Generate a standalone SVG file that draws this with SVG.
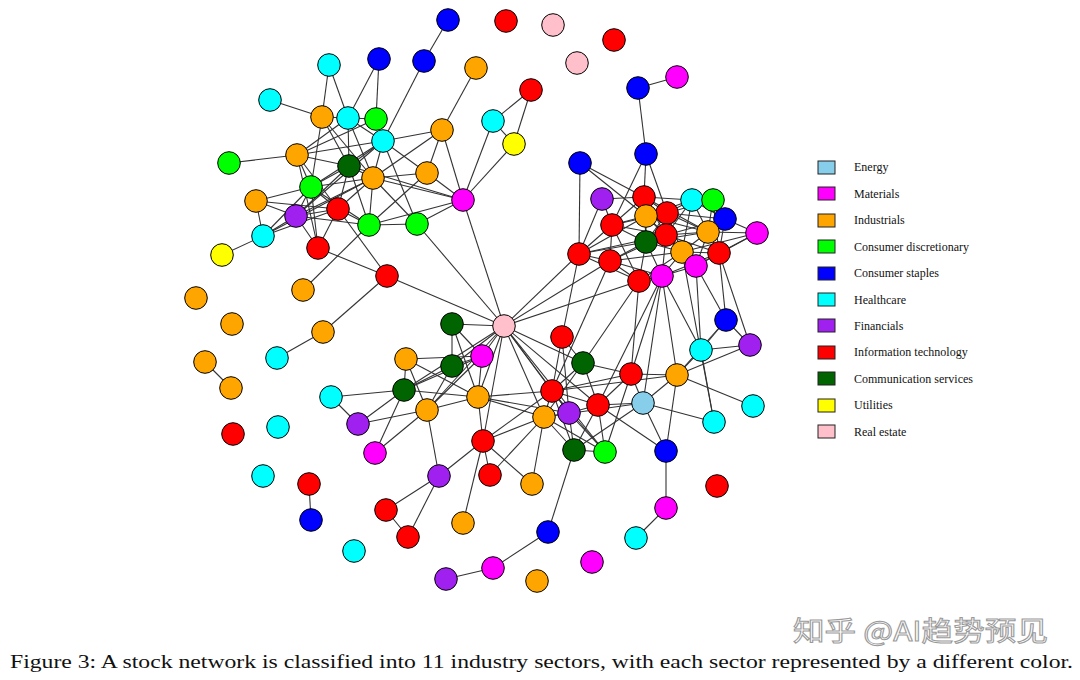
<svg xmlns="http://www.w3.org/2000/svg" width="1080" height="680" viewBox="0 0 1080 680">
<style>
circle{stroke:#000;stroke-width:1}
.en{fill:#87CEEB}.ma{fill:#FF00FF}.in{fill:#FFA500}.cd{fill:#00FF00}.cs{fill:#0000FF}.hc{fill:#00FFFF}.fi{fill:#A020F0}.it{fill:#FF0000}.co{fill:#006400}.ut{fill:#FFFF00}.re{fill:#FFC0CB}
#edges line{stroke:#333;stroke-width:1.1}
.lg rect{stroke:#222;stroke-width:1}
.lg text{font-family:"Liberation Serif",serif;font-size:12px;fill:#111}
</style>
<rect width="1080" height="680" fill="#fff"/>
<g id="edges">
<line x1="424" y1="61" x2="448" y2="20"/>
<line x1="329" y1="65" x2="322" y2="117"/>
<line x1="329" y1="65" x2="348" y2="118"/>
<line x1="379" y1="59" x2="348" y2="118"/>
<line x1="379" y1="59" x2="376" y2="119"/>
<line x1="424" y1="61" x2="383" y2="141"/>
<line x1="476" y1="68" x2="442" y2="130"/>
<line x1="270" y1="100" x2="322" y2="117"/>
<line x1="442" y1="130" x2="383" y2="141"/>
<line x1="442" y1="130" x2="427" y2="173"/>
<line x1="442" y1="130" x2="463" y2="200"/>
<line x1="442" y1="130" x2="373" y2="178"/>
<line x1="229" y1="163" x2="297" y2="155"/>
<line x1="322" y1="117" x2="348" y2="118"/>
<line x1="322" y1="117" x2="349" y2="166"/>
<line x1="322" y1="117" x2="311" y2="187"/>
<line x1="322" y1="117" x2="373" y2="178"/>
<line x1="348" y1="118" x2="376" y2="119"/>
<line x1="348" y1="118" x2="383" y2="141"/>
<line x1="348" y1="118" x2="349" y2="166"/>
<line x1="348" y1="118" x2="373" y2="178"/>
<line x1="348" y1="118" x2="297" y2="155"/>
<line x1="376" y1="119" x2="383" y2="141"/>
<line x1="376" y1="119" x2="297" y2="155"/>
<line x1="383" y1="141" x2="297" y2="155"/>
<line x1="383" y1="141" x2="349" y2="166"/>
<line x1="383" y1="141" x2="373" y2="178"/>
<line x1="383" y1="141" x2="311" y2="187"/>
<line x1="383" y1="141" x2="427" y2="173"/>
<line x1="383" y1="141" x2="417" y2="224"/>
<line x1="383" y1="141" x2="296" y2="216"/>
<line x1="297" y1="155" x2="349" y2="166"/>
<line x1="297" y1="155" x2="311" y2="187"/>
<line x1="297" y1="155" x2="318" y2="248"/>
<line x1="297" y1="155" x2="338" y2="209"/>
<line x1="349" y1="166" x2="373" y2="178"/>
<line x1="349" y1="166" x2="311" y2="187"/>
<line x1="349" y1="166" x2="338" y2="209"/>
<line x1="349" y1="166" x2="296" y2="216"/>
<line x1="349" y1="166" x2="369" y2="225"/>
<line x1="349" y1="166" x2="463" y2="200"/>
<line x1="373" y1="178" x2="427" y2="173"/>
<line x1="373" y1="178" x2="463" y2="200"/>
<line x1="373" y1="178" x2="369" y2="225"/>
<line x1="373" y1="178" x2="338" y2="209"/>
<line x1="373" y1="178" x2="311" y2="187"/>
<line x1="373" y1="178" x2="296" y2="216"/>
<line x1="373" y1="178" x2="417" y2="224"/>
<line x1="373" y1="178" x2="263" y2="236"/>
<line x1="427" y1="173" x2="463" y2="200"/>
<line x1="427" y1="173" x2="369" y2="225"/>
<line x1="256" y1="201" x2="311" y2="187"/>
<line x1="256" y1="201" x2="296" y2="216"/>
<line x1="256" y1="201" x2="263" y2="236"/>
<line x1="256" y1="201" x2="338" y2="209"/>
<line x1="311" y1="187" x2="296" y2="216"/>
<line x1="311" y1="187" x2="338" y2="209"/>
<line x1="311" y1="187" x2="263" y2="236"/>
<line x1="311" y1="187" x2="318" y2="248"/>
<line x1="311" y1="187" x2="369" y2="225"/>
<line x1="338" y1="209" x2="296" y2="216"/>
<line x1="338" y1="209" x2="369" y2="225"/>
<line x1="338" y1="209" x2="263" y2="236"/>
<line x1="338" y1="209" x2="318" y2="248"/>
<line x1="338" y1="209" x2="387" y2="276"/>
<line x1="296" y1="216" x2="263" y2="236"/>
<line x1="296" y1="216" x2="369" y2="225"/>
<line x1="296" y1="216" x2="318" y2="248"/>
<line x1="263" y1="236" x2="222" y2="255"/>
<line x1="369" y1="225" x2="463" y2="200"/>
<line x1="369" y1="225" x2="417" y2="224"/>
<line x1="369" y1="225" x2="303" y2="290"/>
<line x1="417" y1="224" x2="463" y2="200"/>
<line x1="417" y1="224" x2="504" y2="326"/>
<line x1="318" y1="248" x2="387" y2="276"/>
<line x1="387" y1="276" x2="504" y2="326"/>
<line x1="387" y1="276" x2="323" y2="332"/>
<line x1="323" y1="332" x2="277" y2="358"/>
<line x1="463" y1="200" x2="504" y2="326"/>
<line x1="493" y1="121" x2="463" y2="200"/>
<line x1="514" y1="144" x2="463" y2="200"/>
<line x1="531" y1="90" x2="493" y2="121"/>
<line x1="531" y1="90" x2="514" y2="144"/>
<line x1="493" y1="121" x2="514" y2="144"/>
<line x1="638" y1="88" x2="677" y2="77"/>
<line x1="638" y1="88" x2="646" y2="154"/>
<line x1="580" y1="163" x2="579" y2="254"/>
<line x1="580" y1="163" x2="644" y2="197"/>
<line x1="580" y1="163" x2="646" y2="216"/>
<line x1="646" y1="154" x2="644" y2="197"/>
<line x1="646" y1="154" x2="667" y2="213"/>
<line x1="646" y1="154" x2="612" y2="225"/>
<line x1="602" y1="199" x2="579" y2="254"/>
<line x1="602" y1="199" x2="612" y2="225"/>
<line x1="602" y1="199" x2="644" y2="197"/>
<line x1="644" y1="197" x2="646" y2="216"/>
<line x1="644" y1="197" x2="667" y2="213"/>
<line x1="644" y1="197" x2="612" y2="225"/>
<line x1="644" y1="197" x2="646" y2="242"/>
<line x1="644" y1="197" x2="666" y2="235"/>
<line x1="644" y1="197" x2="692" y2="200"/>
<line x1="644" y1="197" x2="708" y2="232"/>
<line x1="692" y1="200" x2="713" y2="200"/>
<line x1="692" y1="200" x2="667" y2="213"/>
<line x1="692" y1="200" x2="708" y2="232"/>
<line x1="692" y1="200" x2="666" y2="235"/>
<line x1="692" y1="200" x2="646" y2="216"/>
<line x1="692" y1="200" x2="682" y2="252"/>
<line x1="692" y1="200" x2="725" y2="219"/>
<line x1="713" y1="200" x2="725" y2="219"/>
<line x1="713" y1="200" x2="708" y2="232"/>
<line x1="713" y1="200" x2="667" y2="213"/>
<line x1="713" y1="200" x2="719" y2="253"/>
<line x1="646" y1="216" x2="667" y2="213"/>
<line x1="646" y1="216" x2="612" y2="225"/>
<line x1="646" y1="216" x2="646" y2="242"/>
<line x1="646" y1="216" x2="666" y2="235"/>
<line x1="646" y1="216" x2="682" y2="252"/>
<line x1="646" y1="216" x2="708" y2="232"/>
<line x1="646" y1="216" x2="579" y2="254"/>
<line x1="667" y1="213" x2="666" y2="235"/>
<line x1="667" y1="213" x2="708" y2="232"/>
<line x1="667" y1="213" x2="646" y2="242"/>
<line x1="667" y1="213" x2="682" y2="252"/>
<line x1="667" y1="213" x2="725" y2="219"/>
<line x1="667" y1="213" x2="612" y2="225"/>
<line x1="725" y1="219" x2="757" y2="233"/>
<line x1="725" y1="219" x2="708" y2="232"/>
<line x1="725" y1="219" x2="719" y2="253"/>
<line x1="725" y1="219" x2="666" y2="235"/>
<line x1="757" y1="233" x2="719" y2="253"/>
<line x1="757" y1="233" x2="708" y2="232"/>
<line x1="757" y1="233" x2="682" y2="252"/>
<line x1="757" y1="233" x2="696" y2="266"/>
<line x1="612" y1="225" x2="646" y2="242"/>
<line x1="612" y1="225" x2="579" y2="254"/>
<line x1="612" y1="225" x2="610" y2="261"/>
<line x1="612" y1="225" x2="666" y2="235"/>
<line x1="612" y1="225" x2="639" y2="281"/>
<line x1="666" y1="235" x2="646" y2="242"/>
<line x1="666" y1="235" x2="682" y2="252"/>
<line x1="666" y1="235" x2="708" y2="232"/>
<line x1="666" y1="235" x2="719" y2="253"/>
<line x1="666" y1="235" x2="662" y2="276"/>
<line x1="666" y1="235" x2="610" y2="261"/>
<line x1="666" y1="235" x2="579" y2="254"/>
<line x1="708" y1="232" x2="682" y2="252"/>
<line x1="708" y1="232" x2="719" y2="253"/>
<line x1="708" y1="232" x2="696" y2="266"/>
<line x1="708" y1="232" x2="646" y2="242"/>
<line x1="646" y1="242" x2="682" y2="252"/>
<line x1="646" y1="242" x2="579" y2="254"/>
<line x1="646" y1="242" x2="610" y2="261"/>
<line x1="646" y1="242" x2="662" y2="276"/>
<line x1="646" y1="242" x2="639" y2="281"/>
<line x1="682" y1="252" x2="719" y2="253"/>
<line x1="682" y1="252" x2="696" y2="266"/>
<line x1="682" y1="252" x2="662" y2="276"/>
<line x1="682" y1="252" x2="639" y2="281"/>
<line x1="682" y1="252" x2="610" y2="261"/>
<line x1="719" y1="253" x2="696" y2="266"/>
<line x1="719" y1="253" x2="662" y2="276"/>
<line x1="579" y1="254" x2="610" y2="261"/>
<line x1="579" y1="254" x2="639" y2="281"/>
<line x1="610" y1="261" x2="639" y2="281"/>
<line x1="610" y1="261" x2="662" y2="276"/>
<line x1="696" y1="266" x2="662" y2="276"/>
<line x1="662" y1="276" x2="639" y2="281"/>
<line x1="579" y1="254" x2="562" y2="337"/>
<line x1="579" y1="254" x2="504" y2="326"/>
<line x1="610" y1="261" x2="504" y2="326"/>
<line x1="610" y1="261" x2="552" y2="391"/>
<line x1="639" y1="281" x2="504" y2="326"/>
<line x1="639" y1="281" x2="583" y2="363"/>
<line x1="639" y1="281" x2="631" y2="374"/>
<line x1="662" y1="276" x2="631" y2="374"/>
<line x1="662" y1="276" x2="677" y2="375"/>
<line x1="662" y1="276" x2="643" y2="403"/>
<line x1="662" y1="276" x2="598" y2="405"/>
<line x1="662" y1="276" x2="701" y2="350"/>
<line x1="696" y1="266" x2="701" y2="350"/>
<line x1="696" y1="266" x2="726" y2="320"/>
<line x1="719" y1="253" x2="726" y2="320"/>
<line x1="719" y1="253" x2="750" y2="345"/>
<line x1="682" y1="252" x2="714" y2="422"/>
<line x1="452" y1="324" x2="504" y2="326"/>
<line x1="452" y1="324" x2="452" y2="366"/>
<line x1="452" y1="324" x2="482" y2="356"/>
<line x1="452" y1="324" x2="478" y2="397"/>
<line x1="504" y1="326" x2="482" y2="356"/>
<line x1="504" y1="326" x2="452" y2="366"/>
<line x1="504" y1="326" x2="478" y2="397"/>
<line x1="504" y1="326" x2="552" y2="391"/>
<line x1="504" y1="326" x2="544" y2="417"/>
<line x1="504" y1="326" x2="583" y2="363"/>
<line x1="504" y1="326" x2="598" y2="405"/>
<line x1="504" y1="326" x2="569" y2="413"/>
<line x1="504" y1="326" x2="404" y2="390"/>
<line x1="504" y1="326" x2="427" y2="410"/>
<line x1="504" y1="326" x2="483" y2="441"/>
<line x1="504" y1="326" x2="605" y2="452"/>
<line x1="406" y1="359" x2="482" y2="356"/>
<line x1="406" y1="359" x2="404" y2="390"/>
<line x1="406" y1="359" x2="427" y2="410"/>
<line x1="406" y1="359" x2="478" y2="397"/>
<line x1="452" y1="366" x2="482" y2="356"/>
<line x1="452" y1="366" x2="404" y2="390"/>
<line x1="452" y1="366" x2="427" y2="410"/>
<line x1="331" y1="397" x2="404" y2="390"/>
<line x1="331" y1="397" x2="358" y2="424"/>
<line x1="404" y1="390" x2="358" y2="424"/>
<line x1="404" y1="390" x2="375" y2="453"/>
<line x1="404" y1="390" x2="478" y2="397"/>
<line x1="404" y1="390" x2="482" y2="356"/>
<line x1="358" y1="424" x2="427" y2="410"/>
<line x1="375" y1="453" x2="427" y2="410"/>
<line x1="427" y1="410" x2="439" y2="476"/>
<line x1="427" y1="410" x2="482" y2="356"/>
<line x1="427" y1="410" x2="478" y2="397"/>
<line x1="439" y1="476" x2="483" y2="441"/>
<line x1="439" y1="476" x2="386" y2="510"/>
<line x1="439" y1="476" x2="408" y2="537"/>
<line x1="386" y1="510" x2="408" y2="537"/>
<line x1="309" y1="484" x2="311" y2="520"/>
<line x1="463" y1="523" x2="483" y2="441"/>
<line x1="446" y1="579" x2="493" y2="568"/>
<line x1="493" y1="568" x2="548" y2="532"/>
<line x1="548" y1="532" x2="574" y2="450"/>
<line x1="205" y1="362" x2="231" y2="388"/>
<line x1="482" y1="356" x2="478" y2="397"/>
<line x1="483" y1="441" x2="478" y2="397"/>
<line x1="478" y1="397" x2="552" y2="391"/>
<line x1="478" y1="397" x2="544" y2="417"/>
<line x1="478" y1="397" x2="569" y2="413"/>
<line x1="483" y1="441" x2="544" y2="417"/>
<line x1="483" y1="441" x2="552" y2="391"/>
<line x1="483" y1="441" x2="490" y2="475"/>
<line x1="483" y1="441" x2="532" y2="484"/>
<line x1="490" y1="475" x2="544" y2="417"/>
<line x1="544" y1="417" x2="532" y2="484"/>
<line x1="562" y1="337" x2="552" y2="391"/>
<line x1="562" y1="337" x2="569" y2="413"/>
<line x1="562" y1="337" x2="583" y2="363"/>
<line x1="552" y1="391" x2="583" y2="363"/>
<line x1="552" y1="391" x2="631" y2="374"/>
<line x1="552" y1="391" x2="677" y2="375"/>
<line x1="552" y1="391" x2="569" y2="413"/>
<line x1="552" y1="391" x2="598" y2="405"/>
<line x1="552" y1="391" x2="544" y2="417"/>
<line x1="552" y1="391" x2="574" y2="450"/>
<line x1="552" y1="391" x2="605" y2="452"/>
<line x1="583" y1="363" x2="631" y2="374"/>
<line x1="583" y1="363" x2="598" y2="405"/>
<line x1="583" y1="363" x2="544" y2="417"/>
<line x1="631" y1="374" x2="677" y2="375"/>
<line x1="631" y1="374" x2="643" y2="403"/>
<line x1="631" y1="374" x2="598" y2="405"/>
<line x1="631" y1="374" x2="605" y2="452"/>
<line x1="677" y1="375" x2="701" y2="350"/>
<line x1="677" y1="375" x2="750" y2="345"/>
<line x1="677" y1="375" x2="753" y2="406"/>
<line x1="677" y1="375" x2="643" y2="403"/>
<line x1="677" y1="375" x2="666" y2="451"/>
<line x1="677" y1="375" x2="726" y2="320"/>
<line x1="726" y1="320" x2="701" y2="350"/>
<line x1="726" y1="320" x2="750" y2="345"/>
<line x1="701" y1="350" x2="750" y2="345"/>
<line x1="701" y1="350" x2="714" y2="422"/>
<line x1="643" y1="403" x2="598" y2="405"/>
<line x1="643" y1="403" x2="714" y2="422"/>
<line x1="643" y1="403" x2="666" y2="451"/>
<line x1="643" y1="403" x2="574" y2="450"/>
<line x1="643" y1="403" x2="544" y2="417"/>
<line x1="598" y1="405" x2="569" y2="413"/>
<line x1="598" y1="405" x2="605" y2="452"/>
<line x1="598" y1="405" x2="574" y2="450"/>
<line x1="598" y1="405" x2="666" y2="451"/>
<line x1="569" y1="413" x2="574" y2="450"/>
<line x1="569" y1="413" x2="605" y2="452"/>
<line x1="569" y1="413" x2="544" y2="417"/>
<line x1="544" y1="417" x2="574" y2="450"/>
<line x1="544" y1="417" x2="605" y2="452"/>
<line x1="574" y1="450" x2="605" y2="452"/>
<line x1="666" y1="451" x2="666" y2="508"/>
<line x1="666" y1="508" x2="636" y2="538"/>
</g>
<g id="nodes">
<g id="n1"><circle class="cs" cx="448" cy="20" r="11.3"/></g>
<g id="n2"><circle class="it" cx="506" cy="21" r="11.3"/></g>
<g id="n3"><circle class="re" cx="553" cy="25" r="11.3"/></g>
<g id="n4"><circle class="it" cx="614" cy="40" r="11.3"/></g>
<g id="n5"><circle class="re" cx="577" cy="63" r="11.3"/></g>
<g id="n6"><circle class="in" cx="476" cy="68" r="11.3"/></g>
<g id="n7"><circle class="cs" cx="424" cy="61" r="11.3"/></g>
<g id="n8"><circle class="cs" cx="379" cy="59" r="11.3"/></g>
<g id="n9"><circle class="hc" cx="329" cy="65" r="11.3"/></g>
<g id="n10"><circle class="ma" cx="677" cy="77" r="11.3"/></g>
<g id="n11"><circle class="cs" cx="638" cy="88" r="11.3"/></g>
<g id="n12"><circle class="it" cx="531" cy="90" r="11.3"/></g>
<g id="n13"><circle class="hc" cx="270" cy="100" r="11.3"/></g>
<g id="n14"><circle class="in" cx="322" cy="117" r="11.3"/></g>
<g id="n15"><circle class="hc" cx="348" cy="118" r="11.3"/></g>
<g id="n16"><circle class="cd" cx="376" cy="119" r="11.3"/></g>
<g id="n17"><circle class="hc" cx="493" cy="121" r="11.3"/></g>
<g id="n18"><circle class="in" cx="442" cy="130" r="11.3"/></g>
<g id="n19"><circle class="hc" cx="383" cy="141" r="11.3"/></g>
<g id="n20"><circle class="ut" cx="514" cy="144" r="11.3"/></g>
<g id="n21"><circle class="cs" cx="646" cy="154" r="11.3"/></g>
<g id="n22"><circle class="in" cx="297" cy="155" r="11.3"/></g>
<g id="n23"><circle class="cd" cx="229" cy="163" r="11.3"/></g>
<g id="n24"><circle class="cs" cx="580" cy="163" r="11.3"/></g>
<g id="n25"><circle class="co" cx="349" cy="166" r="11.3"/></g>
<g id="n26"><circle class="in" cx="427" cy="173" r="11.3"/></g>
<g id="n27"><circle class="in" cx="373" cy="178" r="11.3"/></g>
<g id="n28"><circle class="cd" cx="311" cy="187" r="11.3"/></g>
<g id="n29"><circle class="ma" cx="463" cy="200" r="11.3"/></g>
<g id="n30"><circle class="fi" cx="602" cy="199" r="11.3"/></g>
<g id="n31"><circle class="it" cx="644" cy="197" r="11.3"/></g>
<g id="n32"><circle class="hc" cx="692" cy="200" r="11.3"/></g>
<g id="n33"><circle class="cd" cx="713" cy="200" r="11.3"/></g>
<g id="n34"><circle class="in" cx="256" cy="201" r="11.3"/></g>
<g id="n35"><circle class="it" cx="338" cy="209" r="11.3"/></g>
<g id="n36"><circle class="fi" cx="296" cy="216" r="11.3"/></g>
<g id="n37"><circle class="it" cx="667" cy="213" r="11.3"/></g>
<g id="n38"><circle class="in" cx="646" cy="216" r="11.3"/></g>
<g id="n39"><circle class="cs" cx="725" cy="219" r="11.3"/></g>
<g id="n40"><circle class="cd" cx="369" cy="225" r="11.3"/></g>
<g id="n41"><circle class="cd" cx="417" cy="224" r="11.3"/></g>
<g id="n42"><circle class="it" cx="612" cy="225" r="11.3"/></g>
<g id="n43"><circle class="ma" cx="757" cy="233" r="11.3"/></g>
<g id="n44"><circle class="it" cx="666" cy="235" r="11.3"/></g>
<g id="n45"><circle class="in" cx="708" cy="232" r="11.3"/></g>
<g id="n46"><circle class="hc" cx="263" cy="236" r="11.3"/></g>
<g id="n47"><circle class="co" cx="646" cy="242" r="11.3"/></g>
<g id="n48"><circle class="in" cx="682" cy="252" r="11.3"/></g>
<g id="n49"><circle class="it" cx="719" cy="253" r="11.3"/></g>
<g id="n50"><circle class="it" cx="579" cy="254" r="11.3"/></g>
<g id="n51"><circle class="ut" cx="222" cy="255" r="11.3"/></g>
<g id="n52"><circle class="it" cx="318" cy="248" r="11.3"/></g>
<g id="n53"><circle class="it" cx="610" cy="261" r="11.3"/></g>
<g id="n54"><circle class="ma" cx="696" cy="266" r="11.3"/></g>
<g id="n55"><circle class="ma" cx="662" cy="276" r="11.3"/></g>
<g id="n56"><circle class="it" cx="639" cy="281" r="11.3"/></g>
<g id="n57"><circle class="it" cx="387" cy="276" r="11.3"/></g>
<g id="n58"><circle class="in" cx="303" cy="290" r="11.3"/></g>
<g id="n59"><circle class="in" cx="196" cy="298" r="11.3"/></g>
<g id="n60"><circle class="re" cx="504" cy="326" r="11.3"/></g>
<g id="n61"><circle class="co" cx="452" cy="324" r="11.3"/></g>
<g id="n62"><circle class="in" cx="232" cy="324" r="11.3"/></g>
<g id="n63"><circle class="in" cx="323" cy="332" r="11.3"/></g>
<g id="n64"><circle class="it" cx="562" cy="337" r="11.3"/></g>
<g id="n65"><circle class="cs" cx="726" cy="320" r="11.3"/></g>
<g id="n66"><circle class="fi" cx="750" cy="345" r="11.3"/></g>
<g id="n67"><circle class="hc" cx="701" cy="350" r="11.3"/></g>
<g id="n68"><circle class="ma" cx="482" cy="356" r="11.3"/></g>
<g id="n69"><circle class="hc" cx="277" cy="358" r="11.3"/></g>
<g id="n70"><circle class="in" cx="205" cy="362" r="11.3"/></g>
<g id="n71"><circle class="in" cx="406" cy="359" r="11.3"/></g>
<g id="n72"><circle class="co" cx="452" cy="366" r="11.3"/></g>
<g id="n73"><circle class="co" cx="583" cy="363" r="11.3"/></g>
<g id="n74"><circle class="it" cx="631" cy="374" r="11.3"/></g>
<g id="n75"><circle class="in" cx="677" cy="375" r="11.3"/></g>
<g id="n76"><circle class="in" cx="231" cy="388" r="11.3"/></g>
<g id="n77"><circle class="hc" cx="331" cy="397" r="11.3"/></g>
<g id="n78"><circle class="co" cx="404" cy="390" r="11.3"/></g>
<g id="n79"><circle class="in" cx="478" cy="397" r="11.3"/></g>
<g id="n80"><circle class="it" cx="552" cy="391" r="11.3"/></g>
<g id="n81"><circle class="it" cx="598" cy="405" r="11.3"/></g>
<g id="n82"><circle class="en" cx="643" cy="403" r="11.3"/></g>
<g id="n83"><circle class="hc" cx="753" cy="406" r="11.3"/></g>
<g id="n84"><circle class="in" cx="427" cy="410" r="11.3"/></g>
<g id="n85"><circle class="fi" cx="569" cy="413" r="11.3"/></g>
<g id="n86"><circle class="in" cx="544" cy="417" r="11.3"/></g>
<g id="n87"><circle class="fi" cx="358" cy="424" r="11.3"/></g>
<g id="n88"><circle class="hc" cx="278" cy="427" r="11.3"/></g>
<g id="n89"><circle class="it" cx="233" cy="434" r="11.3"/></g>
<g id="n90"><circle class="hc" cx="714" cy="422" r="11.3"/></g>
<g id="n91"><circle class="it" cx="483" cy="441" r="11.3"/></g>
<g id="n92"><circle class="co" cx="574" cy="450" r="11.3"/></g>
<g id="n93"><circle class="cd" cx="605" cy="452" r="11.3"/></g>
<g id="n94"><circle class="cs" cx="666" cy="451" r="11.3"/></g>
<g id="n95"><circle class="ma" cx="375" cy="453" r="11.3"/></g>
<g id="n96"><circle class="it" cx="490" cy="475" r="11.3"/></g>
<g id="n97"><circle class="hc" cx="263" cy="476" r="11.3"/></g>
<g id="n98"><circle class="fi" cx="439" cy="476" r="11.3"/></g>
<g id="n99"><circle class="it" cx="309" cy="484" r="11.3"/></g>
<g id="n100"><circle class="in" cx="532" cy="484" r="11.3"/></g>
<g id="n101"><circle class="it" cx="717" cy="486" r="11.3"/></g>
<g id="n102"><circle class="ma" cx="666" cy="508" r="11.3"/></g>
<g id="n103"><circle class="cs" cx="311" cy="520" r="11.3"/></g>
<g id="n104"><circle class="in" cx="463" cy="523" r="11.3"/></g>
<g id="n105"><circle class="it" cx="386" cy="510" r="11.3"/></g>
<g id="n106"><circle class="cs" cx="548" cy="532" r="11.3"/></g>
<g id="n107"><circle class="it" cx="408" cy="537" r="11.3"/></g>
<g id="n108"><circle class="hc" cx="636" cy="538" r="11.3"/></g>
<g id="n109"><circle class="hc" cx="354" cy="551" r="11.3"/></g>
<g id="n110"><circle class="ma" cx="592" cy="562" r="11.3"/></g>
<g id="n111"><circle class="ma" cx="493" cy="568" r="11.3"/></g>
<g id="n112"><circle class="fi" cx="446" cy="579" r="11.3"/></g>
<g id="n113"><circle class="in" cx="537" cy="581" r="11.3"/></g>
</g>
<g id="legend" class="lg">
<rect class="en" x="818" y="161" width="17" height="13"/><text x="854" y="171">Energy</text>
<rect class="ma" x="818" y="187" width="17" height="13"/><text x="854" y="198">Materials</text>
<rect class="in" x="818" y="214" width="17" height="13"/><text x="854" y="224">Industrials</text>
<rect class="cd" x="818" y="240" width="17" height="13"/><text x="854" y="251">Consumer discretionary</text>
<rect class="cs" x="818" y="267" width="17" height="13"/><text x="854" y="277">Consumer staples</text>
<rect class="hc" x="818" y="293" width="17" height="13"/><text x="854" y="304">Healthcare</text>
<rect class="fi" x="818" y="319" width="17" height="13"/><text x="854" y="330">Financials</text>
<rect class="it" x="818" y="346" width="17" height="13"/><text x="854" y="356">Information technology</text>
<rect class="co" x="818" y="372" width="17" height="13"/><text x="854" y="383">Communication services</text>
<rect class="ut" x="818" y="399" width="17" height="13"/><text x="854" y="409">Utilities</text>
<rect class="re" x="818" y="425" width="17" height="13"/><text x="854" y="436">Real estate</text>
</g>
<text id="watermark" x="793" y="641" textLength="255" lengthAdjust="spacingAndGlyphs" style="font-family:'Noto Sans CJK SC',sans-serif;font-size:27px;fill:#fff;stroke:#9a9a9a;stroke-width:1">知乎 @AI趋势预见</text>
<text id="caption" x="10" y="668" textLength="1063" lengthAdjust="spacingAndGlyphs" style="font-family:'Liberation Serif',serif;font-size:19px;fill:#111">Figure 3: A stock network is classified into 11 industry sectors, with each sector represented by a different color.</text>
</svg>
